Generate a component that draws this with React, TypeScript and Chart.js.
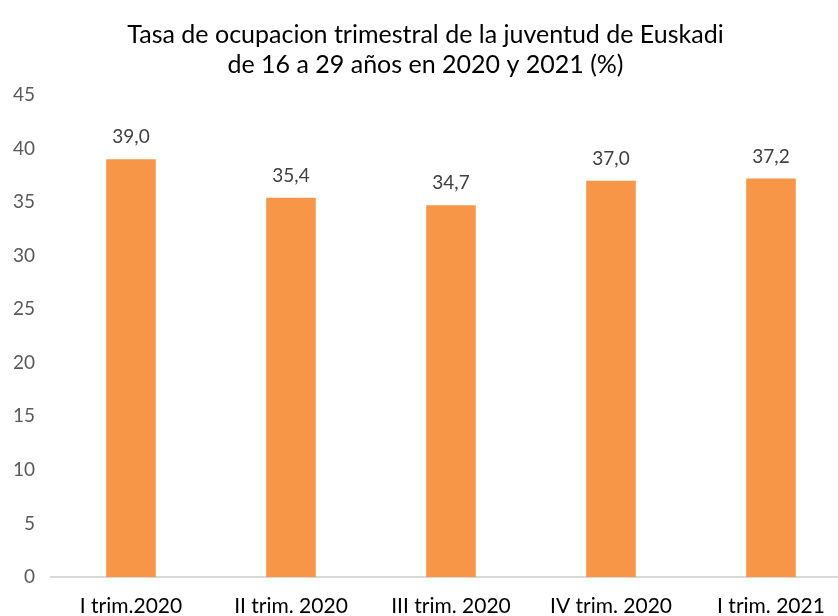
import React, { useEffect, useRef } from "react";
import { Chart, registerables } from "chart.js";
Chart.register(...registerables);

const categories = ["I trim.2020", "II trim. 2020", "III trim. 2020", "IV trim. 2020", "I trim. 2021"];
const values = [39.0, 35.4, 34.7, 37.0, 37.2];
const titleLines = ["Tasa de ocupacion trimestral de la juventud de Euskadi", "de 16 a 29 años en 2020 y 2021 (%)"];

const FONT = "Lato, 'Open Sans', sans-serif";

const labelPlugin = {
  id: "valueLabels",
  afterDatasetsDraw(chart: any) {
    const ctx = chart.ctx;
    const meta = chart.getDatasetMeta(0);
    ctx.save();
    ctx.font = `19px ${FONT}`;
    ctx.fillStyle = "#404040";
    ctx.textAlign = "center";
    ctx.textBaseline = "alphabetic";
    meta.data.forEach((bar: any, i: number) => {
      const v = values[i];
      ctx.fillText(v.toFixed(1).replace(".", ","), bar.x, bar.y - 16);
    });
    ctx.restore();
  },
};

export default function App() {
  const ref = useRef<HTMLCanvasElement>(null);
  useEffect(() => {
    if (!ref.current) return;
    const chart = new Chart(ref.current, {
      type: "bar",
      data: {
        labels: categories,
        datasets: [
          {
            data: values,
            backgroundColor: "#F79646",
            barPercentage: 0.62,
            categoryPercentage: 0.5,
          },
        ],
      },
      options: {
        animation: false,
        responsive: false,
        layout: { padding: { top: 0, left: 0, right: 15, bottom: 0 } },
        plugins: {
          legend: { display: false },
          tooltip: { enabled: false },
          title: {
            display: true,
            text: titleLines,
            color: "#000000",
            font: { family: FONT, size: 25, weight: "normal" },
            lineHeight: 1.2,
            padding: { top: 20, bottom: 15 },
          },
        },
        scales: {
          x: {
            grid: { display: false },
            border: { display: true, color: "#D9D9D9", width: 2 },
            ticks: { color: "#000000", font: { family: FONT, size: 21 }, padding: 9, maxRotation: 0, autoSkip: false },
            afterFit: (s: any) => { s.height = 39; },
          },
          y: {
            min: 0,
            max: 45,
            grid: { display: false },
            border: { display: false },
            ticks: { stepSize: 5, color: "#595959", font: { family: FONT, size: 19 }, padding: 8 },
            afterFit: (s: any) => { s.width = 51; },
          },
        },
      },
      plugins: [labelPlugin],
    });
    return () => chart.destroy();
  }, []);
  return (
    <div style={{ position: "fixed", left: 0, top: 0, width: 838, height: 616, overflow: "hidden", background: "#fff" }}>
      <canvas ref={ref} width={866} height={616} style={{ display: "block" }} />
    </div>
  );
}
